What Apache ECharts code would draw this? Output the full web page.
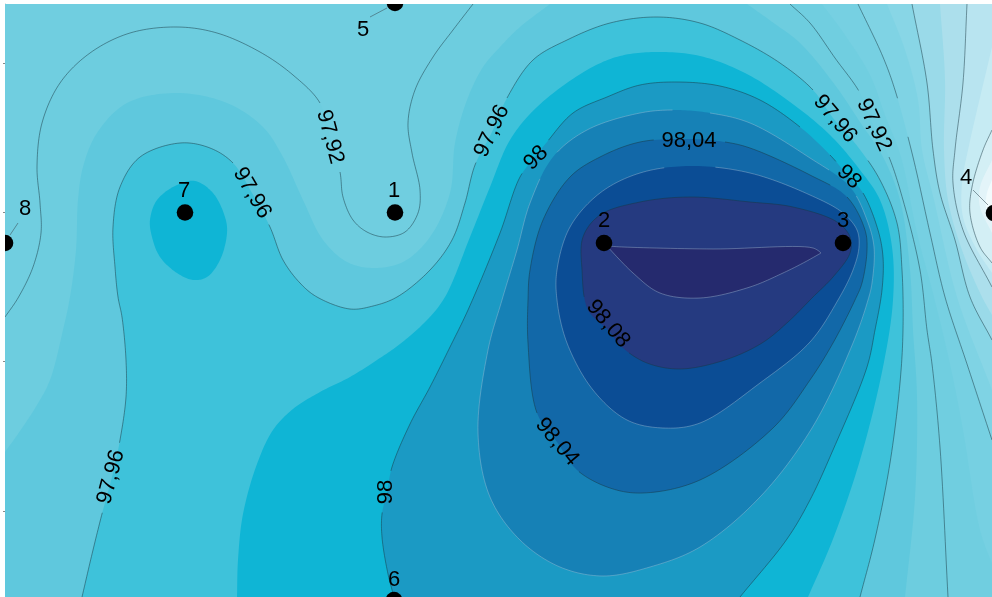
<!DOCTYPE html>
<html>
<head>
<meta charset="utf-8">
<style>html,body{margin:0;padding:0;background:#fff}#c{width:992px;height:597px}</style>
<script src="https://cdn.jsdelivr.net/npm/echarts@6/dist/echarts.min.js"></script>
</head>
<body>
<div id="c"></div>
<script>
// Contour traces, [x, y] in map units.
var c9772 = [[992,180],[987,193],[986,207],[992,220]];
var c9774 = [[992,160],[980,187],[980,207],[992,233]];
var c9776 = [[992,130],[983,150],[972,187],[970,213],[980,247],[992,263]];
var c9778 = [[992,47],[968,150],[962,183],[963,217],[977,250],[992,273]];
var c9780 = [[967,4],[963,83],[955,150],[953,183],[963,230],[992,287]];
var c9782 = [[940,4],[945,80],[944,150],[948,200],[962,250],[982,297],[992,315]];
var c9784 = [[912,4],[927,83],[933,150],[940,193],[955,240],[970,297],[992,340]];
var c9786 = [[887,4],[905,50],[918,100],[922,150],[934,200],[957,297],[992,390]];
var c9788 = [[858,4],[883,57],[895,90],[913,157],[930,233],[945,297],[967,364],[992,440]];
var c9790 = [[822,4],[845,35],[870,75],[885,115],[901,157],[917,233],[934,297],[950,364],[963,430],[980,530],[992,564]];
var c9792a = [[5,317],[18,298],[33,267],[41,233],[40,203],[37,167],[42,123],[60,83],[90,53],[130,33],[177,27],[217,33],[260,52],[293,75],[320,103],[330,137],[340,172],[343,197],[353,220],[367,232],[385,237],[405,232],[418,213],[420,190],[412,153],[408,123],[415,90],[433,57],[453,30],[473,4]];
var c9792b = [[790,4],[810,23],[835,58],[860,93],[873,125],[889,157],[903,200],[920,270],[927,330],[932,364],[940,447],[948,597]];
var c9794a = [[5,452],[20,431],[37,405],[50,380],[63,330],[70,297],[76,250],[78,200],[83,167],[97,133],[127,103],[177,93],[227,103],[263,127],[283,157],[303,200],[323,240],[347,262],[373,268],[403,262],[430,237],[450,193],[455,143],[467,100],[483,67],[500,47],[520,27],[550,4]];
var c9794b = [[747,4],[775,24],[800,43],[835,85],[860,122],[883,157],[900,200],[910,270],[913,330],[917,397],[915,497],[905,597]];
var c9796 = [[82,597],[93,550],[103,510],[112,477],[120,440],[126,397],[126,360],[122,317],[118,297],[115,267],[113,227],[120,187],[140,157],[180,143],[210,148],[233,163],[252,193],[270,227],[283,260],[300,283],[317,297],[350,309],[373,306],[397,297],[430,270],[452,240],[465,203],[475,165],[492,132],[507,98],[533,60],[567,40],[610,23],[657,17],[700,23],[740,40],[780,63],[813,90],[833,118],[858,147],[880,180],[897,223],[902,270],[903,330],[900,383],[890,463],[875,539],[860,597]];
var c9798 = [[237,597],[238,560],[243,514],[257,464],[273,430],[293,409],[320,392],[350,377],[377,360],[400,344],[427,320],[445,297],[470,237],[490,187],[510,140],[537,107],[587,70],[620,56],[657,52],[700,56],[745,73],[790,102],[830,135],[860,170],[880,200],[892,247],[893,300],[883,367],[860,460],[833,539],[808,597]];
var c9798island = [[150,220],[157,200],[177,185],[195,181],[213,193],[225,217],[227,233],[220,260],[207,277],[193,280],[177,273],[160,257],[152,237]];
var c9800 = [[394,597],[388,574],[382,537],[382,514],[387,492],[392,467],[410,424],[430,387],[450,347],[468,310],[500,233],[520,177],[535,157],[547,142],[573,113],[607,97],[640,85],[677,82],[720,86],[760,100],[800,127],[830,155],[849,177],[863,193],[878,230],[883,257],[882,290],[875,330],[867,367],[833,450],[810,500],[787,539],[740,597]];
var c9802 = [[502,300],[488,350],[478,433],[490,497],[520,540],[560,567],[603,576],[650,567],[700,547],[760,497],[812,428],[853,343],[868,300],[872,283],[874,247],[867,220],[850,187],[810,158],[750,123],[710,113],[675,110],[640,113],[587,130],[553,157],[530,203],[517,250]];
var c9804 = [[528,300],[528,343],[537,413],[557,442],[577,470],[610,488],[643,493],[700,480],[773,428],[810,380],[833,343],[855,300],[862,283],[867,250],[865,230],[847,197],[810,175],[750,148],[725,142],[689,139],[640,142],[600,157],[570,177],[543,220],[530,270]];
var c9806 = [[557,300],[567,343],[593,390],[627,420],[663,428],[700,423],[760,383],[810,342],[838,300],[853,270],[859,247],[857,230],[843,213],[810,195],[750,173],[690,166],[640,173],[600,193],[570,227],[557,270]];
var c9808 = [[588,310],[608,330],[623,348],[647,363],[680,369],[725,360],[762,343],[788,322],[813,297],[833,277],[850,253],[850,237],[837,222],[793,207],[750,202],[690,197],[640,202],[600,215],[583,237],[582,270]];
var c9810 = [[607,246],[607,246],[623,247],[713,249],[813,248],[821,253],[821,253],[805,262],[783,273],[750,287],[700,298],[660,293],[633,273]];

var bandColors = {
  base:'#f2fbfd', c9772:'#e3f4f9', c9774:'#d3eff5', c9776:'#c6ebf3', c9778:'#b8e4f0',
  c9780:'#acdfec', c9782:'#9adae9', c9784:'#88d6e6', c9786:'#7fd3e4', c9788:'#76d0e2',
  c9790:'#70cee0', c9792:'#6dcddf', c9794:'#5fc8dd', c9796:'#3ec2da', c9798:'#0fb5d5',
  c9800:'#1b9ac4', c9802:'#1681b6', c9804:'#1268a8', c9806:'#0b4d95', c9808:'#253a80', c9810:'#252a6e'
};
var lineDark = 'rgba(25,55,65,0.62)';
var lineLight = 'rgba(170,195,215,0.5)';

var tr = [992,4], br = [992,597], bl = [5,597], tl = [5,4];

// Filled layers, painted low to high.
var layers = [
  {pieces:[c9772], close:[br,bl,tl,tr], color:bandColors.c9772},
  {pieces:[c9774], close:[br,bl,tl,tr], color:bandColors.c9774},
  {pieces:[c9776], close:[br,bl,tl,tr], color:bandColors.c9776, line:lineDark},
  {pieces:[c9778], close:[br,bl,tl,tr], color:bandColors.c9778},
  {pieces:[c9780], close:[br,bl,tl], color:bandColors.c9780, line:lineDark},
  {pieces:[c9782], close:[br,bl,tl], color:bandColors.c9782},
  {pieces:[c9784], close:[br,bl,tl], color:bandColors.c9784, line:lineDark},
  {pieces:[c9786], close:[br,bl,tl], color:bandColors.c9786},
  {pieces:[c9788], close:[br,bl,tl], color:bandColors.c9788, line:lineDark},
  {pieces:[c9790], close:[br,bl,tl], color:bandColors.c9790},
  {pieces:[c9792a,c9792b], close:[bl], color:bandColors.c9792, line:lineDark},
  {pieces:[c9794a,c9794b], close:[bl], color:bandColors.c9794},
  {pieces:[c9796], close:[], color:bandColors.c9796, line:lineDark},
  {pieces:[c9798], close:[], color:bandColors.c9798},
  {pieces:[c9798island], closed:true, color:bandColors.c9798},
  {pieces:[c9800], close:[], color:bandColors.c9800, line:lineDark},
  {pieces:[c9802], closed:true, color:bandColors.c9802, line:lineLight},
  {pieces:[c9804], closed:true, color:bandColors.c9804, line:lineDark},
  {pieces:[c9806], closed:true, color:bandColors.c9806, line:lineLight},
  {pieces:[c9808], closed:true, color:bandColors.c9808, line:lineDark},
  {pieces:[c9810], closed:true, color:bandColors.c9810, line:lineLight}
];

// Contour labels: text, x, y, rotation in degrees, gap radius in the line, font size.
var contourLabelText = ['97,92','97,96','97,96','98','98,04','97,96','97,92','98','98,08','98,04','97,96','98'];
var contourLabelPos = [[330,137],[252,193],[492,131],[536,158],[689,141],[835,119],[874,125],[849,177],[608,324],[557,442],[111,477],[386,492]];
var contourLabelRot = [-75,-60,65,45,0,-50,-65,-45,-50,-50,75,90];
var contourLabelGap = [35,35,35,20,35,35,35,20,35,35,35,20];
var contourLabelSize = [22,22,22,22,22,22,22,22,22,22,22,22];

// Stations.
var stationPos = [[395,212.5],[604,243],[843,243],[994,213],[395,3],[394,600],[185,212.5],[5,243]];
var stationNames = ['1','2','3','4','5','6','7','8'];
var stationLabelPos = [[394,191],[604,221],[843,221],[966,178],[363,30],[394,580],[184,191],[25,209]];
var stationLabelSize = [22,22,22,22,22,22,22,22];
var leaders = [[[973,190],[988,205]],[[387,8],[370,17]],[[18,223],[10,235]]];
var yTicks = [63,212,361,511];

// Centripetal Catmull-Rom through the traced points, done in pixel space.
function spline(p, closed) {
  var out = [], n = p.length, steps = 14;
  function at(i) {
    if (closed) return p[(i + n) % n];
    if (i < 0) return [2 * p[0][0] - p[1][0], 2 * p[0][1] - p[1][1]];
    if (i > n - 1) return [2 * p[n - 1][0] - p[n - 2][0], 2 * p[n - 1][1] - p[n - 2][1]];
    return p[i];
  }
  function knot(t, a, b) { return t + Math.max(Math.sqrt(Math.hypot(b[0] - a[0], b[1] - a[1])), 0.01); }
  function mix(a, b, ta, tb, t) {
    var k = (t - ta) / (tb - ta);
    return [a[0] + (b[0] - a[0]) * k, a[1] + (b[1] - a[1]) * k];
  }
  var last = closed ? n : n - 1;
  for (var i = 0; i < last; i++) {
    var p0 = at(i - 1), p1 = at(i), p2 = at(i + 1), p3 = at(i + 2);
    var t0 = 0, t1 = knot(t0, p0, p1), t2 = knot(t1, p1, p2), t3 = knot(t2, p2, p3);
    for (var s = 0; s < steps; s++) {
      var t = t1 + (t2 - t1) * s / steps;
      var a1 = mix(p0, p1, t0, t1, t), a2 = mix(p1, p2, t1, t2, t), a3 = mix(p2, p3, t2, t3, t);
      var b1 = mix(a1, a2, t0, t2, t), b2 = mix(a2, a3, t1, t3, t);
      out.push(mix(b1, b2, t1, t2, t));
    }
  }
  out.push(closed ? out[0] : p[n - 1]);
  return out;
}
function toPx(api, p) { return p.map(function (q) { return api.coord(q); }); }
function flat(arrs) { return arrs.reduce(function (a, b) { return a.concat(b); }, []); }

var series = [];
layers.forEach(function (layer) {
  series.push({
    type: 'custom', coordinateSystem: 'cartesian2d', clip: true, silent: true, z: 2,
    data: flat(layer.pieces),
    renderItem: function (params, api) {
      if (params.dataIndex !== 0) return null;
      var pts = [];
      layer.pieces.forEach(function (piece) { pts = pts.concat(spline(toPx(api, piece), !!layer.closed)); });
      if (layer.close) pts = pts.concat(toPx(api, layer.close));
      return { type: 'polygon', shape: { points: pts }, style: { fill: layer.color } };
    }
  });
});
layers.forEach(function (layer) {
  if (!layer.line) return;
  series.push({
    type: 'custom', coordinateSystem: 'cartesian2d', clip: true, silent: true, z: 3,
    data: flat(layer.pieces),
    renderItem: function (params, api) {
      if (params.dataIndex !== 0) return null;
      var gaps = contourLabelPos.map(function (q, i) { var c = api.coord(q); return [c[0], c[1], contourLabelGap[i]]; });
      var children = [];
      layer.pieces.forEach(function (piece) {
        var cur = [];
        function flush() {
          if (cur.length > 1) children.push({ type: 'polyline', shape: { points: cur }, style: { stroke: layer.line, lineWidth: 0.8, fill: null } });
          cur = [];
        }
        spline(toPx(api, piece), !!layer.closed).forEach(function (p) {
          var hidden = gaps.some(function (g) { return Math.hypot(p[0] - g[0], p[1] - g[1]) < g[2]; });
          if (hidden) flush(); else cur.push(p);
        });
        flush();
      });
      return { type: 'group', children: children };
    }
  });
});
// Leader lines
series.push({
  type: 'custom', coordinateSystem: 'cartesian2d', clip: true, silent: true, z: 4,
  data: leaders.map(function (l) { return l[0].concat(l[1]); }),
  renderItem: function (params, api) {
    var a = api.coord([api.value(0), api.value(1)]), b = api.coord([api.value(2), api.value(3)]);
    return { type: 'line', shape: { x1: a[0], y1: a[1], x2: b[0], y2: b[1] }, style: { stroke: 'rgba(60,80,90,0.7)', lineWidth: 0.8 } };
  }
});
// Stations
series.push({
  type: 'custom', coordinateSystem: 'cartesian2d', clip: true, silent: true, z: 5,
  data: stationPos,
  renderItem: function (params, api) {
    var c = api.coord([api.value(0), api.value(1)]);
    return { type: 'circle', shape: { cx: c[0], cy: c[1], r: 8.3 }, style: { fill: '#000' } };
  }
});
function textSeries(pos, texts, rots, sizes, z) {
  return {
    type: 'custom', coordinateSystem: 'cartesian2d', clip: false, silent: true, z: z,
    data: pos,
    renderItem: function (params, api) {
      var c = api.coord([api.value(0), api.value(1)]);
      return {
        type: 'text', x: c[0], y: c[1], rotation: (rots ? rots[params.dataIndex] : 0) * Math.PI / 180,
        style: { text: texts[params.dataIndex], fill: '#000', fontSize: sizes[params.dataIndex], fontFamily: '"Liberation Sans", Arial, sans-serif', align: 'center', verticalAlign: 'middle' }
      };
    }
  };
}
series.push(textSeries(contourLabelPos, contourLabelText, contourLabelRot, contourLabelSize, 6));
series.push(textSeries(stationLabelPos, stationNames, null, stationLabelSize, 6));

var chart = echarts.init(document.getElementById('c'), null, { renderer: 'canvas' });
chart.setOption({
  animation: false,
  backgroundColor: '#ffffff',
  grid: { left: 5, top: 4, right: 0, bottom: 0, show: true, backgroundColor: bandColors.base, borderWidth: 0 },
  xAxis: { type: 'value', min: 5, max: 992, show: false },
  yAxis: {
    type: 'value', min: 4, max: 597, inverse: true, splitLine: { show: false },
    axisLine: { show: true, lineStyle: { color: '#c4c4c4', width: 1 } },
    axisTick: { show: true, length: 2, customValues: yTicks, lineStyle: { color: '#888' } },
    axisLabel: { show: false }
  },
  series: series
});
</script>
</body>
</html>
